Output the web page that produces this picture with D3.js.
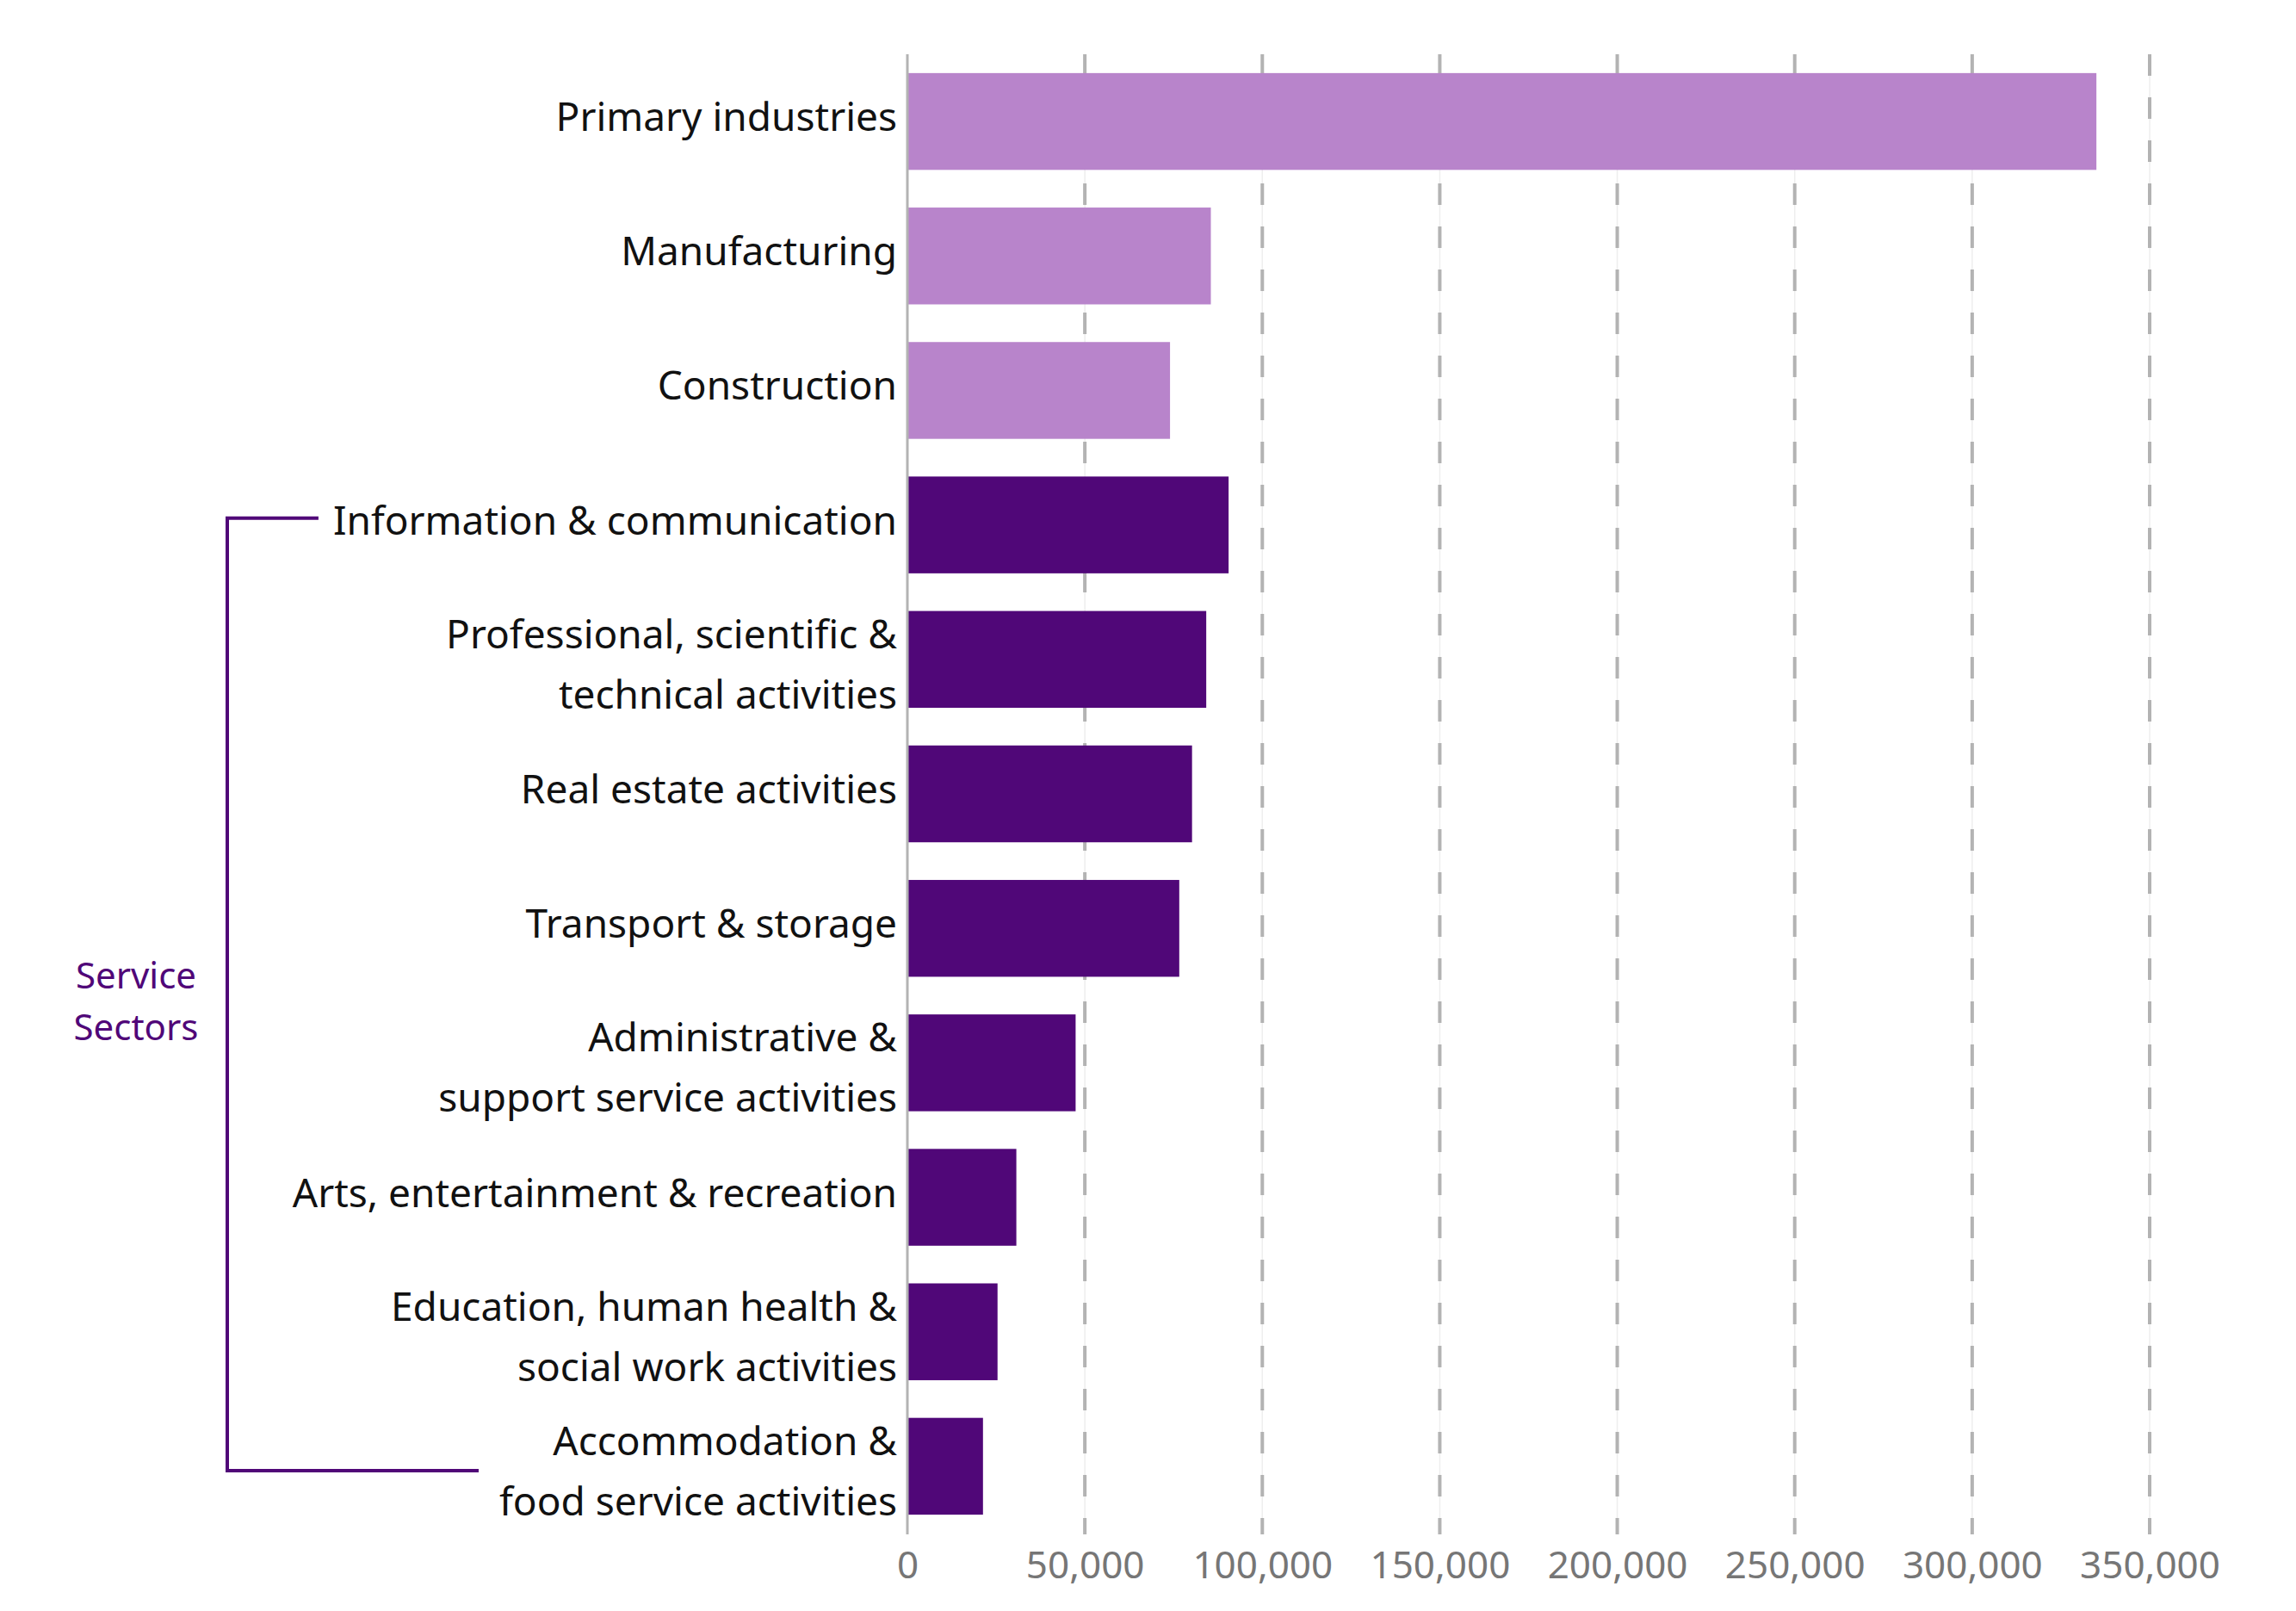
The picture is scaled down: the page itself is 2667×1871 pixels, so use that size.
<!DOCTYPE html>
<html>
<head>
<meta charset="utf-8">
<script src="https://cdn.jsdelivr.net/npm/d3@7"></script>
<style>
    body { margin: 0; background: #fff; }
    text { font-family: "Noto Sans", sans-serif; }
    .cat-label { fill: #111; font-size: 46px; }
    .tick-label { fill: #767676; font-size: 44px; }
    .group-label { fill: #500778; font-size: 42px; }
</style>
</head>
<body>
<div id="chart"></div>
<script>

// categories, top to bottom (multi-line labels split on "|")
const sectors = [
    "Primary industries",
    "Manufacturing",
    "Construction",
    "Information & communication",
    "Professional, scientific &|technical activities",
    "Real estate activities",
    "Transport & storage",
    "Administrative &|support service activities",
    "Arts, entertainment & recreation",
    "Education, human health &|social work activities",
    "Accommodation &|food service activities"
];

const values = [335000, 85500, 74000, 90500, 84200, 80200, 76600, 47400, 30700, 25400, 21300];

// true = service sector (dark bars, inside the bracket)
const isService = [false, false, false, true, true, true, true, true, true, true, true];

const xTicks = [0, 50000, 100000, 150000, 200000, 250000, 300000, 350000];

const width = 2667, height = 1871;

const svg = d3.select("#chart").append("svg")
    .attr("width", width)
    .attr("height", height);

const data = sectors.map((s, i) => ({ name: s, value: values[i], service: isService[i] }));

// scales
const x = d3.scaleLinear()
    .domain([0, 350000])
    .range([1054, 2497]);

const y = d3.scaleBand()
    .domain(sectors)
    .range([63, 1781])
    .paddingInner(0.28)
    .paddingOuter(0.14);

// gridlines
const grid = svg.append("g").attr("class", "grid");

grid.selectAll(".grid-faint")
    .data(xTicks.slice(1))
    .enter().append("line")
    .attr("x1", d => x(d)).attr("x2", d => x(d))
    .attr("y1", 63).attr("y2", 1782)
    .attr("stroke", "#eeeeee")
    .attr("stroke-width", 1.5);

grid.selectAll(".grid-dash")
    .data(xTicks.slice(1))
    .enter().append("line")
    .attr("x1", d => x(d)).attr("x2", d => x(d))
    .attr("y1", 63).attr("y2", 1782)
    .attr("stroke", "#b3b3b3")
    .attr("stroke-width", 4)
    .attr("stroke-dasharray", "25,25");

// bars
svg.selectAll(".bar")
    .data(data)
    .enter().append("rect")
    .attr("class", "bar")
    .attr("x", x(0))
    .attr("y", d => y(d.name))
    .attr("width", d => x(d.value) - x(0))
    .attr("height", y.bandwidth())
    .attr("fill", d => d.service ? "#500778" : "#b884cb");

// zero axis line
svg.append("line")
    .attr("x1", x(0)).attr("x2", x(0))
    .attr("y1", 63).attr("y2", 1782)
    .attr("stroke", "#b3b3b3")
    .attr("stroke-width", 3);

// x axis labels
const xAxis = d3.axisBottom(x)
    .tickValues(xTicks)
    .tickSize(0)
    .tickPadding(0)
    .tickFormat(d3.format(","));

const xAxisGroup = svg.append("g")
    .attr("class", "axis x-axis")
    .attr("transform", "translate(0,1833)")
    .call(xAxis);

xAxisGroup.select(".domain").remove();
xAxisGroup.selectAll("text")
    .attr("class", "tick-label")
    .attr("dy", 0)
    .attr("y", 0)
    .attr("font-family", null)
    .attr("font-size", null)
    .attr("fill", null);

// category labels
const labels = svg.selectAll(".cat-label")
    .data(data)
    .enter().append("text")
    .attr("class", "cat-label")
    .attr("text-anchor", "end")
    .attr("x", x(0) - 12)
    .attr("y", d => y(d.name) + y.bandwidth() / 2);

labels.each(function(d) {
    const lines = d.name.split("|");
    const sel = d3.select(this);
    lines.forEach((line, i) => {
        sel.append("tspan")
            .attr("x", x(0) - 12)
            .attr("dy", i === 0 ? (lines.length > 1 ? -35 + 22 : 11) : 70)
            .text(line);
    });
});

// service sectors bracket
const topName = sectors[3], bottomName = sectors[sectors.length - 1];
const bracketX = 264;
const topY = y(topName) + y.bandwidth() / 2 - 8;
const bottomY = y(bottomName) + y.bandwidth() / 2 + 5;

let topLabelX = 380, bottomLabelX = 560;
labels.each(function(d) {
    const bb = this.getBBox();
    if (d.name === topName) topLabelX = bb.x;
    if (d.name === bottomName) bottomLabelX = bb.x;
});

svg.append("path")
    .attr("d", `M${topLabelX - 17},${topY} H${bracketX} V${bottomY} H${bottomLabelX - 24}`)
    .attr("fill", "none")
    .attr("stroke", "#500778")
    .attr("stroke-width", 4);

const groupLabel = svg.append("text")
    .attr("class", "group-label")
    .attr("text-anchor", "middle")
    .attr("x", 158)
    .attr("y", 1148);

groupLabel.append("tspan").attr("x", 158).text("Service");
groupLabel.append("tspan").attr("x", 158).attr("dy", 60).text("Sectors");

</script>
</body>
</html>
